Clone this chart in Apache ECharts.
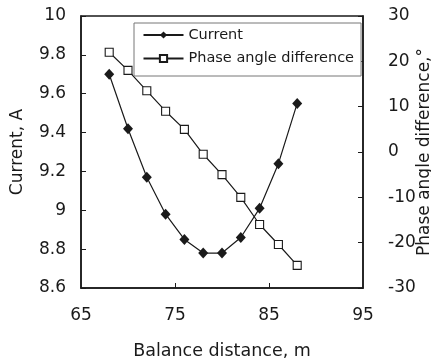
<!DOCTYPE html>
<html>
<head>
<meta charset="utf-8">
<script src="https://cdn.jsdelivr.net/npm/echarts@6/dist/echarts.min.js"></script>
<style>
html,body{margin:0;padding:0;background:#fff;}
#chart{width:431px;height:360px;}
</style>
</head>
<body>
<div id="chart"></div>
<script>
const xValues = [68, 70, 72, 74, 76, 78, 80, 82, 84, 86, 88];
const currentA = [9.70, 9.42, 9.17, 8.98, 8.85, 8.78, 8.78, 8.86, 9.01, 9.24, 9.55];
const phaseDeg = [22, 18, 13.5, 9, 5, -0.5, -5, -10, -16, -20.4, -25];
const xTickLabels = [65, 75, 85, 95];
const xTickMarks = [75, 85];
const seriesNames = ['Current', 'Phase angle difference'];
const axisTitles = { x: 'Balance distance, m', yLeft: 'Current, A', yRight: 'Phase angle difference,°' };

const FONT = 'DejaVu Sans';
const INK = '#1a1a1a';

const chart = echarts.init(document.getElementById('chart'), null, { renderer: 'canvas' });

const pairs = (ys) => xValues.map((x, i) => [x, ys[i]]);

chart.setOption({
  animation: false,
  backgroundColor: '#fff',
  grid: {
    left: 81, right: 68, top: 16, bottom: 72,
    containLabel: false, outerBoundsMode: 'none',
    show: true, borderColor: INK, borderWidth: 1.5, backgroundColor: 'transparent'
  },
  legend: {
    orient: 'vertical',
    left: 134, top: 23,
    data: seriesNames,
    itemWidth: 40, itemHeight: 9, itemGap: 8.5,
    padding: [4.5, 7, 10, 8.5],
    backgroundColor: '#fff',
    borderColor: '#777', borderWidth: 1,
    textStyle: { fontFamily: FONT, fontSize: 14.5, lineHeight: 15, color: INK }
  },
  xAxis: {
    type: 'value', min: 65, max: 95,
    name: axisTitles.x, nameLocation: 'middle', nameGap: 54,
    nameTextStyle: { fontFamily: FONT, fontSize: 17.5, color: INK },
    axisLine: { show: true, onZero: false, lineStyle: { color: INK, width: 1.5 } },
    axisTick: { show: true, inside: true, length: 5, customValues: xTickMarks, lineStyle: { color: INK, width: 1 } },
    axisLabel: { customValues: xTickLabels, margin: 19, fontFamily: FONT, fontSize: 17, color: INK },
    splitLine: { show: false }
  },
  yAxis: [
    {
      type: 'value', position: 'left', min: 8.6, max: 10, interval: 0.2,
      name: axisTitles.yLeft, nameLocation: 'middle', nameGap: 55, nameRotate: 90,
      nameTextStyle: { fontFamily: FONT, fontSize: 17, color: INK },
      axisLine: { show: true, onZero: false, lineStyle: { color: INK, width: 1.5 } },
      axisTick: { show: true, inside: true, length: 5, lineStyle: { color: INK, width: 1 } },
      axisLabel: { margin: 15, fontFamily: FONT, fontSize: 17, color: INK,
        formatter: (v) => String(Math.round(v * 10) / 10) },
      splitLine: { show: false }
    },
    {
      type: 'value', position: 'right', min: -30, max: 30, interval: 10,
      name: axisTitles.yRight, nameLocation: 'middle', nameGap: 53, nameRotate: 90,
      nameMoveOverlap: false,
      nameTextStyle: { fontFamily: FONT, fontSize: 17, color: INK },
      axisLine: { show: true, onZero: false, lineStyle: { color: INK, width: 1.5 } },
      axisTick: { show: true, inside: true, length: 5, lineStyle: { color: INK, width: 1 } },
      axisLabel: { margin: 25, fontFamily: FONT, fontSize: 17, color: INK },
      splitLine: { show: false }
    }
  ],
  series: [
    {
      name: seriesNames[1], type: 'line', yAxisIndex: 1, z: 2,
      data: pairs(phaseDeg),
      symbol: 'rect', symbolSize: 8,
      lineStyle: { color: INK, width: 1.2 },
      itemStyle: { color: '#fff', borderColor: INK, borderWidth: 1.1 }
    },
    {
      name: seriesNames[0], type: 'line', yAxisIndex: 0, z: 3,
      data: pairs(currentA),
      symbol: 'diamond', symbolSize: [10, 11],
      lineStyle: { color: INK, width: 1.2 },
      itemStyle: { color: INK, borderColor: INK, borderWidth: 0 }
    }
  ]
});
</script>
</body>
</html>
